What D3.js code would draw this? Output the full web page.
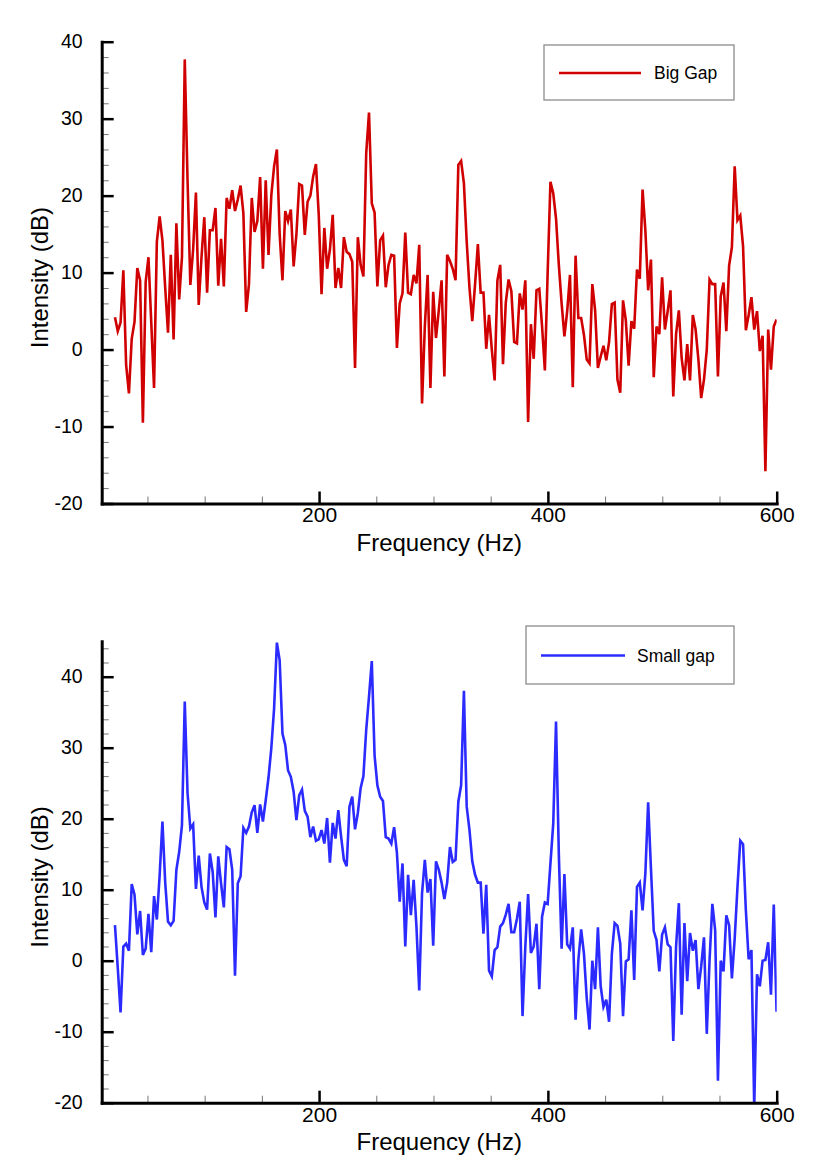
<!DOCTYPE html>
<html>
<head>
<meta charset="utf-8">
<script src="https://cdn.jsdelivr.net/npm/d3@7"></script>
<style>
  html, body { margin: 0; padding: 0; background: #fff; }
  svg { display: block; font-family: "Liberation Sans", Arial, Helvetica, sans-serif; }
</style>
</head>
<body>
<svg id="chart" width="828" height="1170"></svg>
<script>
// ---------------- data ----------------
// spectral bins (Hz): first bin and spacing
const freqStart = 21.6;
const freqStep = 2.44;

const bigGapDb = [
  4.2, 2.4, 3.5, 10.3, -2.0, -5.7, 1.4, 3.6, 10.6, 9.0,
  -9.5, 8.8, 12.0, 3.5, -5.0, 14.0, 17.3, 14.2, 8.0, 2.2,
  12.3, 1.3, 16.4, 6.5, 12.0, 37.7, 22.0, 8.4, 13.0, 20.4,
  5.8, 12.0, 17.2, 7.4, 15.5, 15.5, 18.4, 8.3, 14.4, 8.2,
  19.7, 18.3, 20.7, 18.0, 19.5, 21.3, 17.7, 4.9, 8.5, 19.7,
  15.3, 16.7, 22.4, 10.5, 22.0, 12.3, 20.0, 23.8, 26.0, 15.0,
  9.0, 18.0, 16.7, 18.2, 10.8, 15.0, 21.5, 21.3, 14.9, 19.2,
  20.0, 22.5, 24.1, 17.5, 7.2, 15.8, 10.5, 13.0, 17.5, 8.0,
  10.6, 8.0, 14.6, 12.7, 12.4, 11.4, -2.4, 14.6, 11.0, 9.5,
  25.5, 30.8, 19.0, 17.8, 8.2, 14.2, 14.8, 8.1, 11.0, 12.3,
  12.2, 0.2, 6.0, 7.3, 15.2, 7.4, 7.2, 9.7, 8.6, 13.6,
  -7.0, 3.0, 9.7, -5.0, 7.5, 1.5, 5.1, 9.0, -3.5, 12.3,
  11.5, 10.5, 9.0, 24.0, 24.5, 21.6, 14.0, 8.0, 3.7, 8.5,
  13.7, 7.4, 7.4, 0.1, 4.5, 0.0, -4.0, 9.0, 11.0, -1.9,
  6.1, 9.1, 7.6, 1.0, 0.8, 7.3, 5.2, 9.0, -9.4, 3.3,
  -1.2, 7.7, 7.9, 3.0, -2.7, 10.0, 21.8, 20.3, 17.0, 11.0,
  6.0, 1.7, 5.0, 9.7, -4.9, 12.2, 4.1, 4.1, 1.9, -1.3,
  -1.8, 8.5, 5.1, -2.4, -0.9, 0.5, -1.4, 1.0, 5.9, 6.1,
  -3.9, -5.6, 6.4, 3.8, -2.1, 3.7, 2.7, 10.4, 9.2, 20.8,
  15.5, 7.7, 11.7, -3.6, 3.0, 2.0, 9.4, 2.6, 5.0, 7.7,
  -6.1, 2.0, 5.1, -1.1, -4.0, 0.7, -4.0, 4.5, 2.6, -1.3,
  -6.3, -3.9, 0.0, 9.1, 8.5, 8.5, -3.5, 6.9, 8.7, 2.4,
  10.9, 13.3, 23.8, 16.8, 17.4, 13.4, 2.5, 4.5, 6.8, 2.6,
  5.0, -0.2, 1.8, -15.8, 2.6, -2.6, 3.0, 3.9
];

const smallGapDb = [
  5.0, -1.0, -7.3, 2.0, 2.4, 1.4, 10.8, 9.3, 3.7, 7.0,
  0.8, 1.7, 6.6, 1.2, 9.1, 5.8, 12.0, 19.6, 11.0, 5.5,
  5.0, 5.6, 12.8, 15.3, 19.1, 36.5, 23.6, 18.6, 19.2, 10.1,
  14.8, 10.4, 8.2, 7.2, 15.1, 12.5, 6.1, 14.7, 10.9, 7.5,
  16.0, 15.7, 12.8, -2.1, 10.9, 11.9, 18.7, 18.0, 18.9, 20.9,
  21.9, 18.0, 22.0, 19.6, 22.6, 25.8, 29.9, 35.5, 44.8, 42.3,
  32.0, 30.4, 26.8, 25.9, 23.8, 19.8, 23.3, 24.1, 21.1, 20.3,
  17.4, 18.9, 16.9, 17.1, 18.4, 16.5, 20.1, 13.8, 19.4, 17.2,
  21.2, 17.5, 14.2, 13.3, 21.7, 23.1, 18.5, 20.8, 24.3, 26.0,
  32.5, 37.2, 42.2, 28.9, 24.7, 23.1, 22.5, 17.4, 17.2, 16.5,
  18.8, 15.2, 8.3, 13.7, 2.0, 12.1, 6.4, 11.4, 4.8, -4.2,
  9.5, 14.2, 9.6, 11.5, 2.1, 14.0, 12.8, 11.0, 8.7, 11.0,
  16.0, 13.9, 14.2, 22.4, 24.7, 38.0, 21.7, 18.4, 14.0, 12.1,
  11.0, 11.0, 3.8, 10.7, -1.4, -2.2, 1.5, 1.9, 4.8, 5.3,
  6.5, 8.0, 4.0, 4.0, 5.9, 8.3, -7.8, 2.0, 9.4, 1.1,
  2.0, 5.2, -4.0, 6.2, 8.2, 8.0, 13.7, 19.3, 33.7, 15.0,
  1.7, 12.2, 2.3, 1.7, 4.7, -8.3, 0.1, 4.4, 1.0, -5.3,
  -9.7, 0.0, -4.0, 4.7, -3.6, -6.5, -5.5, -8.6, 1.0, 5.3,
  4.9, 2.4, -7.8, -0.1, 0.2, 7.1, -2.7, 10.4, 11.0, 7.1,
  12.3, 22.3, 13.0, 4.2, 2.9, -1.5, 3.7, 4.7, 2.3, 1.9,
  -11.3, 2.0, 8.1, -7.6, 5.3, -2.9, 3.9, 1.4, 2.9, -4.0,
  -0.8, 3.3, -10.3, 0.1, 8.0, 4.3, -16.9, 0.0, -1.5, 6.4,
  5.0, -2.5, 3.1, 10.4, 16.9, 16.4, 7.1, 0.2, 1.5, -20.6,
  -1.9, -3.6, 0.0, 0.1, 2.6, -4.8, 7.9, -7.2
];

// axis ticks
const xDomain = [10, 600];
const xMajorTicks = [200, 400, 600];
const xMinorTicks = [50, 100, 150, 250, 300, 350, 450, 500, 550];

const topYDomain = [-20, 40];
const topYMajor = [-20, -10, 0, 10, 20, 30, 40];
const topYMinor = [-18, -16, -14, -12, -8, -6, -4, -2, 2, 4, 6, 8, 12, 14, 16, 18, 22, 24, 26, 28, 32, 34, 36, 38];

const botYDomain = [-20, 45];
const botYMajor = [-20, -10, 0, 10, 20, 30, 40];
const botYMinor = [-18, -16, -14, -12, -8, -6, -4, -2, 2, 4, 6, 8, 12, 14, 16, 18, 22, 24, 26, 28, 32, 34, 36, 38, 42, 44];

const seriesLabels = ["Big Gap", "Small gap"];
const seriesColors = ["#d10000", "#2b2bff"];

// ---------------- drawing ----------------
const svg = d3.select("#chart");
const FONT = '"Liberation Sans", Arial, Helvetica, sans-serif';

const x = d3.scaleLinear().domain(xDomain).range([101.7, 776.7]);
const plainNum = d => String(d);   // hyphen-minus like the original

function toPoints(vals) {
  return vals.map((v, i) => ({ f: freqStart + i * freqStep, v }));
}

function panel(opts) {
  const { id, yDomain, yRange, yMajor, yMinor, values, color, label, legend } = opts;
  const y = d3.scaleLinear().domain(yDomain).range(yRange);
  const g = svg.append("g");
  const y0 = yRange[0];

  g.append("clipPath").attr("id", "clip" + id)
    .append("rect")
    .attr("x", x.range()[0]).attr("y", yRange[1])
    .attr("width", x.range()[1] - x.range()[0])
    .attr("height", yRange[0] - yRange[1]);

  // minor ticks
  const yMin = g.append("g").attr("transform", `translate(${x.range()[0]},0)`)
    .call(d3.axisLeft(y).tickValues(yMinor).tickSize(-7).tickFormat(""));
  yMin.select(".domain").remove();
  yMin.selectAll(".tick line").attr("stroke", "#777").attr("stroke-width", 1);

  const xMin = g.append("g").attr("transform", `translate(0,${y0})`)
    .call(d3.axisBottom(x).tickValues(xMinorTicks).tickSize(-7).tickFormat(""));
  xMin.select(".domain").remove();
  xMin.selectAll(".tick line").attr("stroke", "#777").attr("stroke-width", 1);

  // data line
  const pts = toPoints(values);
  const line = d3.line().x(d => x(d.f)).y(d => y(d.v));
  g.append("path")
    .datum(pts)
    .attr("clip-path", `url(#clip${id})`)
    .attr("fill", "none")
    .attr("stroke", color)
    .attr("stroke-width", 2.6)
    .attr("stroke-linejoin", "miter")
    .attr("stroke-miterlimit", 4)
    .attr("d", line);

  // major axes
  const yAx = g.append("g").attr("transform", `translate(${x.range()[0]},0)`)
    .call(d3.axisLeft(y).tickValues(yMajor).tickSize(-12).tickSizeOuter(0).tickPadding(19).tickFormat(plainNum));
  yAx.select(".domain").attr("stroke", "#000").attr("stroke-width", 3).attr("stroke-linecap", "square");
  yAx.selectAll(".tick line").attr("stroke", "#000").attr("stroke-width", 2.5);
  yAx.selectAll(".tick text").attr("font-size", 19.5).attr("font-family", FONT).attr("fill", "#000");

  const xAx = g.append("g").attr("transform", `translate(0,${y0})`)
    .call(d3.axisBottom(x).tickValues(xMajorTicks).tickSize(-12).tickSizeOuter(0).tickPadding(4).tickFormat(plainNum));
  xAx.select(".domain").attr("stroke", "#000").attr("stroke-width", 3).attr("stroke-linecap", "square");
  xAx.selectAll(".tick line").attr("stroke", "#000").attr("stroke-width", 2.5);
  xAx.selectAll(".tick text").attr("font-size", 21).attr("font-family", FONT).attr("fill", "#000");

  // axis titles
  g.append("text")
    .attr("x", (x.range()[0] + x.range()[1]) / 2)
    .attr("y", y0 + 47)
    .attr("text-anchor", "middle")
    .attr("font-size", 24)
    .attr("font-family", FONT)
    .text("Frequency (Hz)");

  const ymid = (yRange[0] + yRange[1]) / 2 + 5;
  g.append("text")
    .attr("transform", `translate(48,${ymid}) rotate(-90)`)
    .attr("text-anchor", "middle")
    .attr("font-size", 24)
    .attr("font-family", FONT)
    .text("Intensity (dB)");

  // legend
  const lg = g.append("g");
  lg.append("rect")
    .attr("x", legend.x).attr("y", legend.y)
    .attr("width", legend.w).attr("height", legend.h)
    .attr("fill", "#fff").attr("stroke", "#8c8c8c").attr("stroke-width", 1.3);
  lg.append("line")
    .attr("x1", legend.lx1).attr("x2", legend.lx2)
    .attr("y1", legend.y + legend.h / 2 + 0.5).attr("y2", legend.y + legend.h / 2 + 0.5)
    .attr("stroke", color).attr("stroke-width", 2.6);
  lg.append("text")
    .attr("x", legend.tx).attr("y", legend.y + legend.h / 2 + 6.5)
    .attr("font-size", 17.5)
    .attr("font-family", FONT)
    .text(label);
}

panel({
  id: "top",
  yDomain: topYDomain,
  yRange: [503.5, 41.7],
  yMajor: topYMajor,
  yMinor: topYMinor,
  values: bigGapDb,
  color: seriesColors[0],
  label: seriesLabels[0],
  legend: { x: 544, y: 45, w: 190, h: 55, lx1: 559, lx2: 641, tx: 654 }
});

panel({
  id: "bot",
  yDomain: botYDomain,
  yRange: [1102.7, 641.2],
  yMajor: botYMajor,
  yMinor: botYMinor,
  values: smallGapDb,
  color: seriesColors[1],
  label: seriesLabels[1],
  legend: { x: 526, y: 626, w: 208, h: 58, lx1: 541, lx2: 625, tx: 637 }
});
</script>
</body>
</html>
